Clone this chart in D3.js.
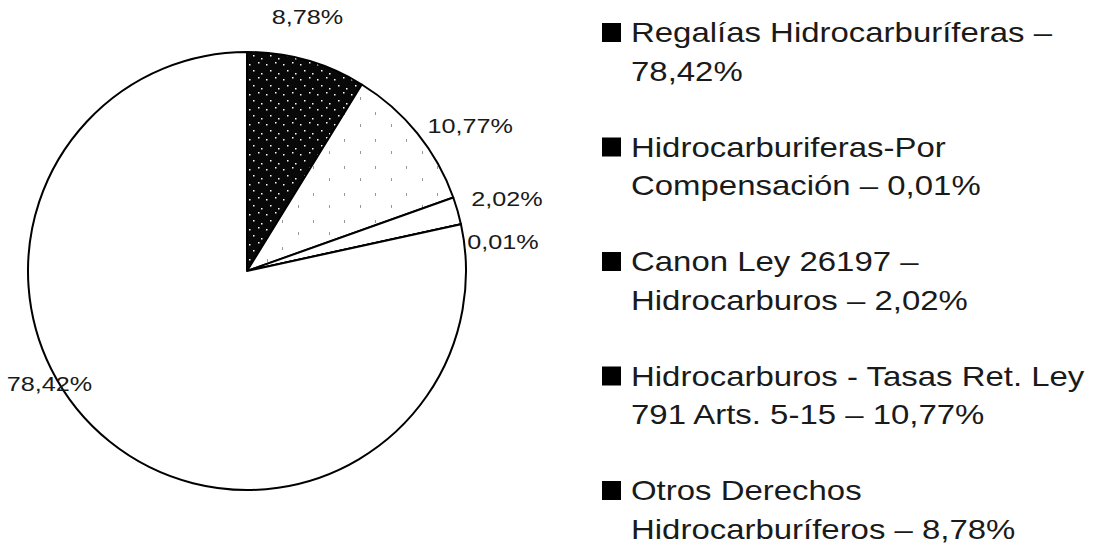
<!DOCTYPE html>
<html>
<head>
<meta charset="utf-8">
<script src="https://cdn.jsdelivr.net/npm/d3@7"></script>
<style>
  body { margin: 0; background: #fff; }
  text { font-family: "Liberation Sans", Arial, sans-serif; fill: #1a1a1a; }
</style>
</head>
<body>
<div id="chart"></div>
<script>
// legend order (as printed on the right)
const categories = [
    "Regalías Hidrocarburíferas",
    "Hidrocarburiferas-Por Compensación",
    "Canon Ley 26197 – Hidrocarburos",
    "Hidrocarburos - Tasas Ret. Ley 791 Arts. 5-15",
    "Otros Derechos Hidrocarburíferos"
];
const values = [78.42, 0.01, 2.02, 10.77, 8.78];
const valueLabels = ["78,42%", "0,01%", "2,02%", "10,77%", "8,78%"];
const legendLines = [
    ["Regalías Hidrocarburíferas –", "78,42%"],
    ["Hidrocarburiferas-Por", "Compensación – 0,01%"],
    ["Canon Ley 26197 –", "Hidrocarburos – 2,02%"],
    ["Hidrocarburos - Tasas Ret. Ley", "791 Arts. 5-15 – 10,77%"],
    ["Otros Derechos", "Hidrocarburíferos – 8,78%"]
];

const width = 1099, height = 543;
const cx = 247, cy = 271, radius = 219;

const svg = d3.select("#chart")
.append("svg")
.attr("width", width)
.attr("height", height);

// textures for the scanned look
const defs = svg.append("defs");
const dark = defs.append("pattern")
    .attr("id", "dark")
    .attr("patternUnits", "userSpaceOnUse")
    .attr("width", 17).attr("height", 15);
dark.append("rect").attr("width", 17).attr("height", 15).attr("fill", "#080808");
[[2,3],[11,1],[6,9],[14,12]].forEach(p => {
    dark.append("rect").attr("x", p[0]).attr("y", p[1]).attr("width", 1.5).attr("height", 1.5).attr("fill", "#fff");
});
const light = defs.append("pattern")
    .attr("id", "light")
    .attr("patternUnits", "userSpaceOnUse")
    .attr("width", 31).attr("height", 27);
light.append("rect").attr("width", 31).attr("height", 27).attr("fill", "#fff");
[[4,3],[20,15]].forEach(p => {
    light.append("rect").attr("x", p[0]).attr("y", p[1]).attr("width", 1).attr("height", 3).attr("fill", "#999");
});

const fills = ["#fff", "#fff", "#fff", "url(#light)", "url(#dark)"];

// slices run clockwise from 12 o'clock in reverse legend order
const order = d3.range(values.length).reverse();
const pie = d3.pie()
    .sort(null)
    .value(i => values[i]);
const arcs = pie(order);

const arc = d3.arc().innerRadius(0).outerRadius(radius);
const labelArc = d3.arc().innerRadius(radius + 40).outerRadius(radius + 40);

const g = svg.append("g").attr("transform", `translate(${cx},${cy})`);

g.selectAll(".slice")
    .data(arcs)
    .join("path")
    .attr("class", "slice")
    .attr("d", arc)
    .attr("fill", d => fills[d.data])
    .attr("stroke", "#000")
    .attr("stroke-width", 2)
    .attr("stroke-linejoin", "round");

// nudges for Excel-style label placement
const nudge = {0: [-35, -82], 1: [3, 33], 2: [11, 6], 3: [22, 25], 4: [-10, 2]};

g.selectAll(".pct")
    .data(arcs)
    .join("text")
    .attr("class", "pct")
    .attr("text-anchor", "middle")
    .attr("font-size", 21)
    .attr("transform", d => {
        const c = labelArc.centroid(d);
        const n = nudge[d.data];
        return `translate(${c[0] + n[0]},${c[1] + n[1]}) scale(1.2,1)`;
    })
    .text(d => valueLabels[d.data]);

// legend
const legendX = 602, firstY = 42, step = 114.5, lineH = 39;
const legend = svg.append("g");
const item = legend.selectAll(".item")
    .data(categories)
    .join("g")
    .attr("class", "item")
    .attr("transform", (d, i) => `translate(${legendX},${firstY + i * step})`);

item.append("rect")
    .attr("x", 0).attr("y", -19)
    .attr("width", 19).attr("height", 19)
    .attr("fill", "#000");

item.append("text")
    .attr("transform", "translate(29,0) scale(1.22,1)")
    .attr("font-size", 27)
    .selectAll("tspan")
    .data((d, i) => legendLines[i])
    .join("tspan")
    .attr("x", 0)
    .attr("y", (d, j) => j * lineH)
    .text(d => d);
</script>
</body>
</html>
